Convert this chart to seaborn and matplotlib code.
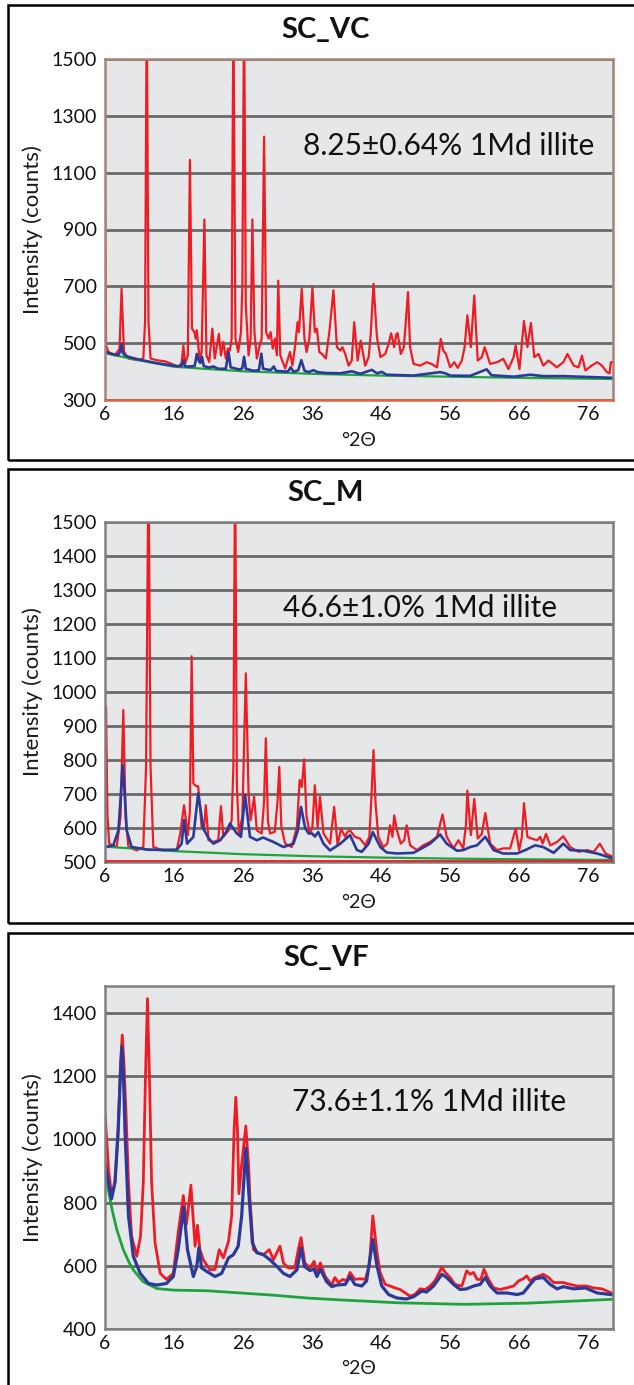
import matplotlib
matplotlib.use("Agg")
import matplotlib.pyplot as plt
from matplotlib.patches import Rectangle
import seaborn as sns

# --- values (°2θ, counts) ---
# SC_VC
vc_red_x = [6.0, 6.15, 6.5, 7.45, 8.1, 8.4, 8.75, 9.4, 10.8, 11.55, 11.8, 12.05, 12.3, 12.6, 13.5, 14.7,
            15.6, 16.6, 17.1, 17.35, 17.6, 18.0, 18.3, 18.6, 18.95, 19.15, 19.3, 19.7, 20.0, 20.4, 20.7,
            21.1, 21.55, 21.9, 22.5, 22.8, 23.15, 23.5, 23.8, 24.1, 24.35, 24.6, 24.9, 25.3, 25.7, 25.9,
            26.15, 26.4, 26.8, 27.1, 27.35, 27.65, 28.0, 28.3, 28.7, 29.05, 29.35, 29.7, 30.0, 30.3, 30.6,
            30.9, 31.1, 31.4, 32.1, 32.8, 33.15, 33.5, 33.9, 34.1, 34.5, 34.9, 35.2, 35.6, 36.05, 36.4,
            36.7, 37.05, 37.4, 38.0, 38.5, 39.1, 39.6, 40.1, 40.4, 40.8, 41.3, 41.75, 42.1, 42.6, 43.05,
            43.7, 44.2, 44.5, 44.9, 45.4, 45.9, 46.6, 47.1, 47.45, 47.9, 48.2, 48.4, 48.85, 49.3, 49.9,
            50.2, 50.7, 51.65, 52.6, 53.3, 54.1, 54.65, 55.0, 55.4, 56.0, 56.6, 57.1, 57.7, 58.1, 58.5,
            59.0, 59.5, 60.0, 60.6, 61.0, 61.8, 62.8, 63.7, 64.45, 65.2, 65.5, 66.05, 66.7, 67.2, 67.7,
            68.2, 68.8, 69.5, 70.25, 71.45, 72.4, 73.0, 73.9, 74.6, 75.1, 75.6, 76.5, 77.3, 78.0, 78.7,
            79.1, 79.3, 79.6]
vc_red_y = [1087, 492, 469, 457, 481, 691, 469, 446, 440, 446, 574, 1700, 574, 446, 440, 436,
            428, 417, 430, 492, 428, 457, 1145, 551, 539, 516, 545, 446, 469, 935, 457,
            434, 551, 446, 533, 457, 504, 446, 481, 475, 516, 1700, 516, 469, 539, 700,
            1700, 632, 457, 516, 935, 539, 446, 481, 516, 1227, 539, 516, 539, 481, 516,
            457, 720, 457, 411, 469, 422, 481, 574, 539, 691, 516, 469, 516, 696, 539,
            551, 469, 463, 446, 539, 686, 486, 474, 486, 462, 421, 439, 574, 439, 509,
            421, 451, 533, 709, 521, 451, 462, 498, 535, 486, 531, 535, 462, 486, 680,
            486, 427, 421, 433, 427, 415, 515, 474, 462, 415, 433, 413, 439, 486, 598,
            486, 668, 439, 451, 486, 427, 433, 445, 409, 451, 492, 409, 578, 486, 571,
            451, 462, 421, 439, 415, 433, 462, 421, 415, 456, 404, 421, 433, 421, 398,
            394, 433, 433]
vc_blue_x = [6.0, 7.0, 7.9, 8.2, 8.4, 8.6, 9.0, 10.0, 11.0, 12.0, 13.0, 14.0, 15.0, 16.5, 17.1, 17.35,
             17.6, 18.3, 19.0, 19.3, 19.55, 19.8, 20.05, 20.3, 21.0, 21.7, 22.4, 23.5, 23.9, 24.2, 25.5,
             25.9, 26.15, 26.4, 27.5, 28.3, 28.65, 28.9, 30.0, 30.45, 30.8, 32.5, 32.9, 33.3, 34.0, 34.45,
             34.9, 35.5, 36.2, 36.8, 38.0, 40.1, 41.75, 43.0, 44.65, 45.4, 46.1, 46.8, 50.7, 54.55, 55.3,
             56.0, 58.9, 61.3, 62.0, 65.2, 67.6, 69.5, 72.4, 74.8, 79.6]
vc_blue_y = [470, 462, 458, 470, 498, 465, 455, 448, 442, 437, 432, 428, 424, 419, 420, 440,
             418, 418, 420, 462, 440, 430, 452, 420, 414, 418, 410, 410, 469, 415, 407,
             412, 452, 410, 403, 405, 463, 410, 405, 418, 402, 400, 415, 399, 405, 440,
             403, 398, 405, 398, 395, 394, 401, 392, 406, 394, 399, 389, 386, 398, 394,
             386, 385, 408, 387, 382, 389, 384, 384, 382, 378]
vc_green_x = [6.0, 10.0, 16.0, 26.0, 36.0, 46.0, 56.0, 66.0, 79.6]
vc_green_y = [465, 444, 417, 401, 392, 386, 382, 378, 374]

# SC_M
m_red_x = [6.0, 6.15, 6.35, 6.6, 7.0, 7.7, 8.25, 8.65, 9.0, 9.4, 10.6, 11.55, 11.95, 12.3, 12.6, 13.0,
           14.45, 16.4, 16.9, 17.45, 18.0, 18.3, 18.55, 18.8, 19.2, 19.5, 20.0, 20.35, 20.6, 21.0, 21.7,
           22.4, 22.8, 23.15, 23.9, 24.35, 24.6, 24.85, 25.1, 25.4, 25.9, 26.4, 26.8, 27.1, 27.6, 28.0,
           28.7, 29.05, 29.3, 29.6, 29.9, 30.6, 31.0, 31.25, 31.55, 32.1, 33.05, 33.8, 34.2, 34.5, 34.85,
           35.2, 35.7, 36.05, 36.4, 36.8, 37.15, 37.65, 38.6, 39.2, 39.7, 40.2, 40.8, 41.1, 41.5, 42.2,
           42.95, 43.7, 44.3, 44.6, 44.9, 45.2, 45.6, 46.3, 46.9, 47.3, 47.65, 47.9, 48.3, 48.85, 49.35,
           49.7, 50.2, 51.2, 52.1, 53.1, 54.1, 54.9, 55.5, 56.5, 57.2, 57.9, 58.3, 58.5, 59.0, 59.5,
           60.0, 60.6, 61.1, 61.8, 62.8, 63.7, 64.7, 65.5, 66.0, 66.4, 66.7, 67.2, 67.8, 68.6, 69.05,
           69.4, 69.9, 70.5, 71.5, 72.4, 73.4, 74.6, 75.8, 76.8, 77.7, 78.5, 79.6]
m_red_y = [940, 957, 640, 554, 550, 544, 633, 947, 623, 544, 534, 544, 780, 1700, 780, 544,
           534, 536, 584, 667, 579, 650, 1105, 731, 723, 723, 603, 598, 667, 564, 559,
           564, 664, 574, 593, 623, 780, 1700, 731, 584, 633, 1055, 700, 623, 692, 593,
           584, 680, 864, 623, 584, 589, 680, 780, 603, 554, 544, 603, 741, 721, 802,
           633, 584, 603, 726, 603, 692, 584, 554, 662, 549, 598, 574, 588, 593, 574,
           569, 549, 574, 691, 829, 671, 574, 544, 554, 608, 574, 637, 593, 554, 564,
           608, 549, 535, 549, 559, 574, 640, 574, 540, 564, 540, 610, 710, 579, 686,
           569, 583, 644, 554, 535, 540, 540, 598, 535, 574, 673, 574, 569, 564, 574,
           554, 583, 549, 559, 576, 544, 530, 535, 530, 554, 525, 515]
m_blue_x = [6.0, 7.2, 7.95, 8.3, 8.55, 8.85, 9.15, 9.85, 12.3, 16.4, 17.1, 17.45, 17.9, 18.8, 19.5,
            20.25, 21.0, 21.7, 22.7, 23.6, 24.1, 25.1, 25.7, 26.3, 27.0, 28.0, 28.9, 30.4, 31.85, 33.3,
            33.9, 34.4, 35.0, 35.5, 36.0, 36.4, 36.9, 37.65, 38.6, 40.1, 41.5, 42.5, 43.2, 44.2, 44.8,
            45.9, 46.8, 48.3, 50.7, 51.6, 53.1, 54.55, 55.5, 57.0, 57.9, 58.9, 59.9, 61.1, 62.3, 63.7,
            65.7, 67.1, 68.3, 69.5, 71.0, 72.4, 73.4, 75.3, 77.3, 79.6]
m_blue_y = [544, 549, 593, 700, 785, 700, 593, 544, 536, 536, 554, 623, 554, 574, 702,
            598, 570, 554, 564, 590, 613, 584, 574, 697, 574, 564, 572, 559, 544, 554,
            590, 662, 600, 584, 584, 575, 588, 554, 534, 554, 579, 535, 530, 554, 588,
            544, 528, 525, 527, 537, 554, 581, 554, 533, 535, 544, 549, 574, 535, 525,
            525, 537, 549, 544, 527, 554, 535, 533, 525, 510]
m_green_x = [6.0, 16.0, 26.0, 36.0, 46.0, 56.0, 66.0, 79.6]
m_green_y = [545, 532, 523, 517, 513, 510, 508, 506]

# SC_VF
vf_red_x = [6.0, 6.5, 6.95, 7.45, 7.9, 8.25, 8.5, 8.75, 9.05, 9.4, 9.85, 10.6, 11.15, 11.55, 11.85,
            12.15, 12.45, 12.75, 13.25, 14.0, 14.9, 15.9, 16.6, 17.35, 17.8, 18.45, 19.05, 19.4, 19.75,
            20.25, 21.2, 21.95, 22.55, 23.15, 23.9, 24.35, 24.7, 24.95, 25.2, 25.4, 25.8, 26.4, 26.8,
            27.0, 27.5, 28.2, 28.95, 29.8, 30.4, 31.35, 31.85, 32.55, 33.5, 34.0, 34.4, 34.95, 35.7,
            36.3, 36.7, 37.2, 37.9, 38.85, 39.3, 39.8, 40.5, 41.0, 41.5, 42.2, 43.0, 43.7, 44.3, 44.8,
            45.4, 45.85, 46.6, 47.3, 48.0, 48.75, 49.5, 50.2, 50.9, 51.65, 52.4, 53.1, 53.8, 54.8, 55.3,
            56.0, 56.7, 57.7, 58.4, 58.9, 59.4, 59.9, 60.45, 60.9, 61.55, 62.3, 63.25, 64.2, 65.2, 65.9,
            66.6, 67.1, 67.6, 68.3, 69.5, 70.25, 71.0, 72.4, 73.4, 74.4, 75.8, 76.8, 78.0, 79.6]
vf_red_y = [1084, 908, 822, 865, 1026, 1240, 1330, 1240, 1079, 865, 694, 630, 694, 865, 1186,
            1445, 1186, 865, 673, 576, 557, 576, 705, 822, 731, 855, 662, 728, 651,
            619, 587, 589, 651, 625, 678, 758, 1026, 1133, 1026, 828, 919, 1042, 919,
            812, 651, 641, 635, 651, 619, 662, 609, 593, 593, 651, 689, 609, 593,
            614, 576, 609, 566, 539, 563, 547, 557, 552, 579, 557, 559, 557, 600, 758,
            643, 579, 541, 536, 530, 525, 514, 504, 509, 527, 525, 536, 552, 595, 579,
            563, 541, 536, 584, 573, 579, 557, 557, 589, 557, 530, 525, 530, 536, 552,
            559, 568, 552, 563, 573, 563, 547, 547, 541, 536, 536, 530, 527, 512]
vf_blue_x = [6.0, 6.5, 6.95, 7.45, 7.9, 8.2, 8.45, 8.7, 8.9, 9.4, 10.1, 11.1, 12.3, 13.5, 14.9, 15.9,
             16.6, 17.4, 17.95, 18.8, 19.3, 19.6, 20.0, 20.75, 21.95, 22.9, 23.9, 24.6, 25.3, 25.8,
             26.4, 26.9, 27.35, 28.0, 28.95, 29.9, 30.9, 31.85, 32.8, 33.8, 34.4, 34.9, 35.7, 36.3,
             36.7, 37.2, 38.1, 38.85, 39.6, 40.8, 41.5, 42.2, 43.2, 43.9, 44.8, 45.4, 46.1, 47.1, 48.3,
             49.7, 50.7, 51.9, 52.6, 53.6, 54.8, 55.5, 56.5, 57.45, 58.4, 59.4, 60.35, 61.1, 61.8, 62.8,
             64.2, 65.7, 66.6, 67.6, 68.3, 69.5, 70.5, 71.5, 72.4, 73.9, 75.6, 77.3, 79.6]
vf_blue_y = [924, 865, 812, 865, 1026, 1186, 1293, 1186, 1026, 758, 630, 576, 544, 539, 544, 566,
             651, 785, 651, 566, 598, 657, 593, 582, 566, 576, 625, 635, 662, 758,
             972, 812, 673, 641, 635, 619, 598, 576, 566, 587, 657, 598, 585, 589,
             566, 589, 550, 534, 539, 541, 566, 541, 536, 552, 683, 600, 536, 509, 498,
             495, 502, 520, 517, 536, 573, 563, 541, 525, 527, 536, 541, 563, 536, 514,
             514, 509, 514, 541, 559, 563, 541, 527, 534, 527, 530, 514, 508]
vf_green_x = [6.0, 6.4, 7.0, 7.7, 8.65, 9.5, 10.1, 11.5, 13.5, 15.9, 20.75, 25.6, 30.4, 35.3, 40.1,
              48.3, 58.0, 67.5, 79.6]
vf_green_y = [930, 850, 780, 715, 651, 610, 587, 550, 528, 523, 521, 514, 507, 498, 492,
              483, 478, 482, 494]

titles = ["SC_VC", "SC_M", "SC_VF"]
notes = ["8.25±0.64% 1Md illite", "46.6±1.0% 1Md illite", "73.6±1.1% 1Md illite"]
x_ticks = [6, 16, 26, 36, 46, 56, 66, 76]

sns.set_theme(style="white")
plt.rcParams['font.family'] = ['Lato', 'DejaVu Sans']
plt.rcParams['axes.unicode_minus'] = False

RED = "#f01c24"
BLUE = "#2b3a9a"
GREEN = "#1fa33c"
W, H = 634, 1385


def fx(px):
    return px / W


def fy(py):
    return 1 - py / H


fig = plt.figure(figsize=(W / 100, H / 100), dpi=100)
fig.patch.set_facecolor("white")

# panel layouts in pixels: box top/bottom, axes top/bottom, title y, note x/y, xlabel y
panels = [
    dict(box=(5, 460), ax=(59, 400), title_y=30, note=(303, 146), xlab_y=440,
         red=(vc_red_x, vc_red_y), blue=(vc_blue_x, vc_blue_y), green=(vc_green_x, vc_green_y),
         ylim=(300, 1500), yticks=range(300, 1501, 200), frame="#a9827a", bottom="#e8603c", redline=False),
    dict(box=(469, 923), ax=(522, 862), title_y=493, note=(283, 608), xlab_y=903,
         red=(m_red_x, m_red_y), blue=(m_blue_x, m_blue_y), green=(m_green_x, m_green_y),
         ylim=(500, 1500), yticks=range(500, 1501, 100), frame="#808080", bottom="#808080", redline=True),
    dict(box=(933, 1420), ax=(986, 1329), title_y=958, note=(292, 1102), xlab_y=1368,
         red=(vf_red_x, vf_red_y), blue=(vf_blue_x, vf_blue_y), green=(vf_green_x, vf_green_y),
         ylim=(400, 1485), yticks=range(400, 1401, 200), frame="#808080", bottom="#808080", redline=False),
]

AX_L, AX_R = 105, 613

for i, p in enumerate(panels):
    top, bot = p["box"]
    fig.add_artist(Rectangle((fx(8), fy(bot)), fx(700), (bot - top) / H,
                             transform=fig.transFigure, fill=False, ec="black", lw=1.8))

    at, ab = p["ax"]
    ax = fig.add_axes([fx(AX_L), fy(ab), (AX_R - AX_L) / W, (ab - at) / H])
    ax.set_facecolor("#e6e7e9")

    lw = 2.0 if i == 2 else 1.6
    sns.lineplot(x=p["red"][0], y=p["red"][1], ax=ax, color=RED, lw=lw, sort=False, estimator=None)
    sns.lineplot(x=p["green"][0], y=p["green"][1], ax=ax, color=GREEN, lw=lw, sort=False, estimator=None)
    sns.lineplot(x=p["blue"][0], y=p["blue"][1], ax=ax, color=BLUE, lw=lw + 0.3, sort=False, estimator=None)
    if p["redline"]:
        ax.axhline(p["ylim"][0] + 3, color=RED, lw=1.3, zorder=3)

    ax.set_xlim(6, 79.6)
    ax.set_ylim(*p["ylim"])
    ax.set_xticks(x_ticks)
    ax.set_yticks(list(p["yticks"]))
    ax.set_xlabel("")
    ax.set_ylabel("")
    ax.set_axisbelow(True)
    ax.yaxis.grid(True, color="#6a6a6a", lw=2.0)
    ax.xaxis.grid(False)
    ax.tick_params(axis="both", length=0, labelsize=14, labelcolor="#111111", pad=4)
    ax.tick_params(axis="y", pad=6)
    for side in ["left", "top", "right"]:
        ax.spines[side].set_color(p["frame"])
        ax.spines[side].set_linewidth(1.8)
    ax.spines["bottom"].set_color(p["bottom"])
    ax.spines["bottom"].set_linewidth(1.8)

    fig.text(fx(326), fy(p["title_y"]), titles[i], ha="center", va="center",
             fontsize=21, fontweight="bold", color="#111111")
    fig.text(fx(p["note"][0]), fy(p["note"][1]), notes[i], ha="left", va="center",
             fontsize=21.5, color="#111111")
    fig.text(fx(33), fy((at + ab) / 2), "Intensity (counts)", rotation=90,
             ha="center", va="center", fontsize=16, color="#1a1a1a")
    fig.text(fx(359), fy(p["xlab_y"]), "°2Θ", ha="center", va="center",
             fontsize=14, color="#1a1a1a")

fig.savefig("out.png", dpi=100)
